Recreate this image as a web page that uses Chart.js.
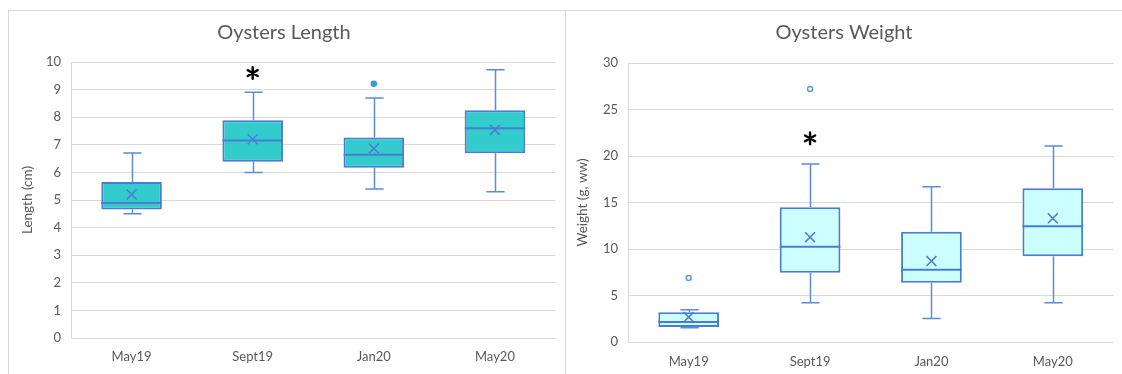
<!DOCTYPE html>
<html>
<head>
<meta charset="utf-8">
<script src="https://cdn.jsdelivr.net/npm/chart.js@4.4.1/dist/chart.umd.min.js"></script>
<style>
    body { margin: 0; background: #fff; width: 1122px; height: 374px; overflow: hidden; position: relative; }
    .frame { position: absolute; border: 1px solid #D9D9D9; border-bottom: none; }
    canvas { position: absolute; }
</style>
</head>
<body>
<div class="frame" style="left:8px;top:10px;width:556px;height:370px;"></div>
<div class="frame" style="left:565px;top:10px;width:580px;height:370px;border-left:none;"></div>
<canvas id="lengthChart" width="555" height="363" style="left:9px;top:11px;"></canvas>
<canvas id="weightChart" width="556" height="363" style="left:566px;top:11px;"></canvas>
<script>
// Data
const categories = ['May19', 'Sept19', 'Jan20', 'May20'];

// Oysters length (cm)
const lenMin = [4.5, 6.0, 5.4, 5.3];
const lenQ1 = [4.66, 6.39, 6.17, 6.69];
const lenMedian = [4.89, 7.16, 6.64, 7.6];
const lenQ3 = [5.65, 7.89, 7.26, 8.25];
const lenMax = [6.7, 8.9, 8.7, 9.72];
const lenMean = [5.2, 7.2, 6.87, 7.54];
const lenOutliers = [null, null, 9.21, null];
const lenSignif = [null, 9.6, null, null];

// Oysters weight (g, ww)
const wtMin = [1.54, 4.23, 2.54, 4.23];
const wtQ1 = [1.61, 7.45, 6.37, 9.23];
const wtMedian = [2.15, 10.24, 7.77, 12.45];
const wtQ3 = [3.19, 14.5, 11.85, 16.53];
const wtMax = [3.48, 19.15, 16.7, 21.08];
const wtMean = [2.68, 11.27, 8.7, 13.3];
const wtOutliers = [6.87, 27.2, null, null];
const wtSignif = [null, 21.9, null, null];

Chart.defaults.font.family = 'Lato, "Liberation Sans", Arial, sans-serif';
Chart.defaults.color = '#595959';

const boxBorder = '#4A7CD4';
const whiskerColor = '#5B8BD9';

// whiskers, median lines and significance asterisks
const boxExtras = {
    id: 'boxExtras',
    beforeDatasetsDraw(chart, args, opts) {
        const ctx = chart.ctx;
        const y = chart.scales.y;
        const bars = chart.getDatasetMeta(0).data;
        ctx.save();
        ctx.strokeStyle = whiskerColor;
        ctx.lineWidth = 1.5;
        bars.forEach((bar, i) => {
            const x = Math.round(bar.x) + 0.5;
            const cap = bar.width * 0.15;
            const yMax = y.getPixelForValue(opts.max[i]);
            const yMin = y.getPixelForValue(opts.min[i]);
            const yQ3 = y.getPixelForValue(opts.q3[i]);
            const yQ1 = y.getPixelForValue(opts.q1[i]);
            ctx.beginPath();
            ctx.moveTo(x, yQ3); ctx.lineTo(x, yMax);
            ctx.moveTo(x - cap, yMax); ctx.lineTo(x + cap, yMax);
            ctx.moveTo(x, yQ1); ctx.lineTo(x, yMin);
            ctx.moveTo(x - cap, yMin); ctx.lineTo(x + cap, yMin);
            ctx.stroke();
        });
        ctx.restore();
    },
    afterDatasetDraw(chart, args, opts) {
        if (args.index !== 0) return;
        const ctx = chart.ctx;
        const y = chart.scales.y;
        ctx.save();
        ctx.strokeStyle = boxBorder;
        ctx.lineWidth = 2;
        args.meta.data.forEach((bar, i) => {
            const ym = y.getPixelForValue(opts.median[i]);
            ctx.beginPath();
            ctx.moveTo(bar.x - bar.width / 2, ym);
            ctx.lineTo(bar.x + bar.width / 2, ym);
            ctx.stroke();
        });
        ctx.restore();
    },
    afterDatasetsDraw(chart, args, opts) {
        const ctx = chart.ctx;
        const y = chart.scales.y;
        const bars = chart.getDatasetMeta(0).data;
        ctx.save();
        ctx.strokeStyle = '#000';
        ctx.lineWidth = 2.4;
        ctx.lineCap = 'round';
        opts.signif.forEach((v, i) => {
            if (v === null) return;
            const cx = bars[i].x;
            const cy = y.getPixelForValue(v);
            const r = 5.8;
            ctx.beginPath();
            [90, 30, 150].forEach(a => {
                const rad = a * Math.PI / 180;
                ctx.moveTo(cx - r * Math.cos(rad), cy - r * Math.sin(rad));
                ctx.lineTo(cx + r * Math.cos(rad), cy + r * Math.sin(rad));
            });
            ctx.stroke();
        });
        ctx.restore();
    }
};

function makeBoxChart(id, cfg) {
    const ctx = document.getElementById(id).getContext('2d');
    return new Chart(ctx, {
        type: 'bar',
        data: {
            labels: categories,
            datasets: [
                {
                    type: 'bar',
                    order: 3,
                    data: cfg.q1.map((v, i) => [v, cfg.q3[i]]),
                    backgroundColor: cfg.fill,
                    borderColor: boxBorder,
                    borderWidth: 2,
                    borderSkipped: false,
                    barPercentage: 0.5,
                    categoryPercentage: 1
                },
                {
                    type: 'line',
                    order: 2,
                    data: cfg.mean,
                    showLine: false,
                    pointStyle: 'crossRot',
                    pointRadius: 7,
                    pointBorderWidth: 1.5,
                    pointBorderColor: boxBorder,
                    pointBackgroundColor: boxBorder
                },
                {
                    type: 'line',
                    order: 1,
                    data: cfg.outliers,
                    showLine: false,
                    pointStyle: 'circle',
                    pointRadius: cfg.outlierRadius,
                    pointBorderWidth: 1.5,
                    pointBorderColor: cfg.outlierBorder,
                    pointBackgroundColor: cfg.outlierFill
                }
            ]
        },
        options: {
            responsive: false,
            animation: false,
            events: [],
            layout: { padding: { left: 0, right: cfg.padRight, top: 0, bottom: 0 } },
            plugins: {
                legend: { display: false },
                tooltip: { enabled: false },
                title: {
                    display: true,
                    text: cfg.title,
                    color: '#595959',
                    font: { size: 20, weight: 'normal' },
                    padding: { top: 10, bottom: cfg.titleGap }
                },
                boxExtras: {
                    min: cfg.min, q1: cfg.q1, median: cfg.median,
                    q3: cfg.q3, max: cfg.max, signif: cfg.signif
                }
            },
            scales: {
                x: {
                    grid: { display: false, drawTicks: false },
                    border: { display: false },
                    ticks: { padding: cfg.xPad, font: { size: 13 }, color: '#595959' },
                    afterFit: scale => { scale.height = cfg.xHeight; }
                },
                y: {
                    min: 0,
                    max: cfg.yMax,
                    ticks: { stepSize: cfg.yStep, padding: 10, font: { size: 13 }, color: '#595959' },
                    grid: { color: '#D9D9D9', drawTicks: false },
                    border: { display: true, color: '#D9D9D9' },
                    title: {
                        display: true,
                        text: cfg.yTitle,
                        color: '#595959',
                        font: { size: 13.5 },
                        padding: { top: cfg.yTitlePad, bottom: 0 }
                    },
                    afterFit: scale => { scale.width = 62; }
                }
            }
        },
        plugins: [boxExtras]
    });
}

makeBoxChart('lengthChart', {
    title: 'Oysters Length', yTitle: 'Length (cm)',
    min: lenMin, q1: lenQ1, median: lenMedian, q3: lenQ3, max: lenMax,
    mean: lenMean, outliers: lenOutliers, signif: lenSignif,
    fill: '#33CCCC', outlierRadius: 2.5, outlierBorder: '#2E9FD3', outlierFill: '#2BA9D6',
    yMax: 10, yStep: 1, padRight: 5, titleGap: 17, xHeight: 36, xPad: 11, yTitlePad: 11
});

makeBoxChart('weightChart', {
    title: 'Oysters Weight', yTitle: 'Weight (g, ww)',
    min: wtMin, q1: wtQ1, median: wtMedian, q3: wtQ3, max: wtMax,
    mean: wtMean, outliers: wtOutliers, signif: wtSignif,
    fill: '#CCFFFF', outlierRadius: 2.5, outlierBorder: '#5B9BE0', outlierFill: '#FFFFFF',
    yMax: 30, yStep: 5, padRight: 0, titleGap: 18, xHeight: 32, xPad: 12, yTitlePad: 9
});
</script>
</body>
</html>
